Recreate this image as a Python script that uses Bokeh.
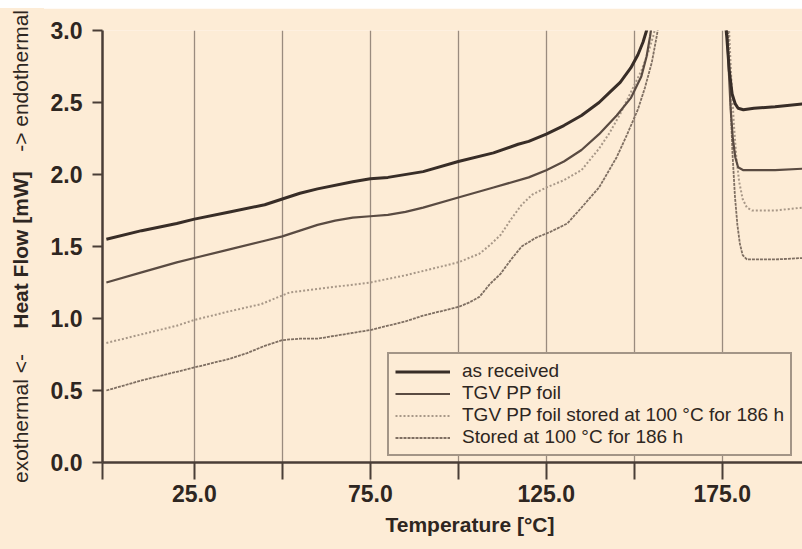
import numpy as np
from bokeh.plotting import figure
from bokeh.models import FixedTicker, Legend, LegendItem, Range1d, Spacer, Div
from bokeh.layouts import row, column
from bokeh.embed import file_html
from bokeh.resources import INLINE

# ---------------- data ----------------
series_names = [
    "as received",
    "TGV PP foil",
    "TGV PP foil stored at 100 °C for 186 h",
    "Stored at 100 °C for 186 h",
]

# as received
ar_x_heat = [0, 10, 20, 25, 35, 45, 50, 55, 60, 70, 75, 80, 90, 100, 110, 117, 120, 125,
             130, 135, 140, 143, 146, 149, 151, 152.5, 153.5, 154.2]
ar_y_heat = [1.55, 1.61, 1.66, 1.69, 1.74, 1.79, 1.83, 1.87, 1.90, 1.95, 1.97, 1.98, 2.02,
             2.09, 2.15, 2.21, 2.23, 2.28, 2.34, 2.41, 2.50, 2.57, 2.64, 2.74, 2.83, 2.92,
             3.00, 3.08]
ar_x_cool = [175.8, 176.3, 177.0, 177.8, 178.7, 179.5, 181, 184, 190, 197.8]
ar_y_cool = [3.08, 2.95, 2.72, 2.56, 2.49, 2.46, 2.45, 2.46, 2.47, 2.49]

# TGV PP foil
tf_x_heat = [0, 10, 20, 25, 35, 45, 50, 55, 60, 65, 70, 75, 80, 85, 90, 100, 110, 120, 125,
             130, 135, 140, 145, 149, 152, 153.5, 154.5, 155.2]
tf_y_heat = [1.25, 1.32, 1.39, 1.42, 1.48, 1.54, 1.57, 1.61, 1.65, 1.68, 1.70, 1.71, 1.72,
             1.74, 1.77, 1.84, 1.91, 1.98, 2.03, 2.09, 2.17, 2.28, 2.41, 2.53, 2.68, 2.82,
             2.96, 3.08]
tf_x_cool = [176.2, 176.8, 177.4, 178.0, 178.7, 179.5, 181, 184, 190, 197.8]
tf_y_cool = [3.08, 2.75, 2.45, 2.25, 2.12, 2.05, 2.03, 2.03, 2.03, 2.04]

# TGV PP foil stored at 100 °C for 186 h
ts_x_heat = [0, 10, 20, 25, 35, 44, 48, 52, 55, 65, 75, 85, 90, 100, 106, 109, 112, 115,
             118, 121, 125, 130, 135, 140, 143, 146, 149, 152, 154, 155.5, 156.5]
ts_y_heat = [0.83, 0.89, 0.95, 0.99, 1.05, 1.10, 1.14, 1.18, 1.19, 1.22, 1.25, 1.30, 1.33,
             1.39, 1.45, 1.51, 1.58, 1.69, 1.79, 1.86, 1.91, 1.96, 2.03, 2.18, 2.29, 2.42,
             2.57, 2.72, 2.85, 2.97, 3.08]
ts_x_cool = [176.8, 177.5, 178.3, 179.0, 179.8, 180.8, 182, 183.5, 186, 190, 197.8]
ts_y_cool = [3.08, 2.70, 2.35, 2.12, 1.95, 1.83, 1.77, 1.75, 1.75, 1.75, 1.77]

# Stored at 100 °C for 186 h
st_x_heat = [0, 10, 20, 25, 30, 35, 40, 45, 50, 55, 60, 65, 70, 75, 80, 85, 90, 95, 100,
             103, 106, 109, 112, 115, 118, 122, 126, 131, 135, 140, 145, 148, 151, 153,
             155, 156.3, 157.2]
st_y_heat = [0.50, 0.57, 0.63, 0.66, 0.69, 0.72, 0.76, 0.81, 0.85, 0.86, 0.86, 0.88, 0.90,
             0.92, 0.95, 0.98, 1.02, 1.05, 1.08, 1.11, 1.15, 1.24, 1.31, 1.41, 1.50, 1.56,
             1.60, 1.66, 1.77, 1.91, 2.12, 2.28, 2.45, 2.60, 2.78, 2.95, 3.08]
st_x_cool = [176.6, 177.2, 177.9, 178.6, 179.3, 180.0, 180.8, 182, 183, 186, 190, 197.8]
st_y_cool = [3.08, 2.60, 2.15, 1.85, 1.65, 1.52, 1.44, 1.41, 1.41, 1.41, 1.41, 1.42]

x_ticks = [25, 50, 75, 100, 125, 150, 175]
x_tick_labels = ["25.0", "", "75.0", "", "125.0", "", "175.0"]
y_ticks = [0.0, 0.5, 1.0, 1.5, 2.0, 2.5, 3.0]
y_tick_labels = ["0.0", "0.5", "1.0", "1.5", "2.0", "2.5", "3.0"]

x_title = "Temperature [°C]"
y_title_parts = ["exothermal &lt;- ", "Heat Flow [mW]", " -&gt; endothermal"]

# ---------------- styling ----------------
BG = "#fdecd6"
INK = "#2e2621"
AXIS = "#4a3e37"
GRID = "#9a8b7e"
FONT = "Liberation Sans"

TOP_WHITE = 8
LEFT_W = 40
X0, X1 = -1.1, 197.8

p = figure(width=802 - LEFT_W, height=549 - TOP_WHITE,
           x_range=Range1d(X0, X1), y_range=Range1d(0, 3.0),
           output_backend="svg", toolbar_location=None,
           min_border_left=102 - LEFT_W, min_border_right=0,
           min_border_top=30 - TOP_WHITE, min_border_bottom=87)
p.background_fill_color = BG
p.border_fill_color = BG
p.outline_line_color = None

# axes
p.xaxis.ticker = FixedTicker(ticks=[X0] + x_ticks)
ov = {X0: ""}
ov.update({t: l for t, l in zip(x_ticks, x_tick_labels)})
p.xaxis.major_label_overrides = ov
p.yaxis.ticker = FixedTicker(ticks=y_ticks)
p.yaxis.major_label_overrides = {t: l for t, l in zip(y_ticks, y_tick_labels)}
for ax in (p.xaxis[0], p.yaxis[0]):
    ax.axis_line_color = AXIS
    ax.axis_line_width = 2.5
    ax.major_tick_line_color = AXIS
    ax.major_tick_line_width = 2
    ax.major_tick_in = 0
    ax.minor_tick_line_color = None
    ax.major_label_text_font = FONT
    ax.major_label_text_font_style = "bold"
    ax.major_label_text_font_size = "23px"
    ax.major_label_text_color = INK
p.xaxis.major_tick_out = 17
p.xaxis.major_label_standoff = 5
p.yaxis.major_tick_out = 10
p.yaxis.major_label_standoff = 10

p.xaxis.axis_label = "\u00a0" * 6 + x_title
p.xaxis.axis_label_text_font = FONT
p.xaxis.axis_label_text_font_style = "bold"
p.xaxis.axis_label_text_font_size = "21px"
p.xaxis.axis_label_text_color = INK
p.xaxis.axis_label_standoff = 8

# grids
p.xgrid.ticker = FixedTicker(ticks=x_ticks)
p.xgrid.grid_line_color = GRID
p.xgrid.grid_line_width = 1.3
p.ygrid.ticker = FixedTicker(ticks=[3.0])
p.ygrid.grid_line_color = "#9c8f85"
p.ygrid.grid_line_width = 3


def joined(xh, yh, xc, yc):
    return list(xh) + [np.nan] + list(xc), list(yh) + [np.nan] + list(yc)


x1, y1 = joined(ar_x_heat, ar_y_heat, ar_x_cool, ar_y_cool)
x2, y2 = joined(tf_x_heat, tf_y_heat, tf_x_cool, tf_y_cool)
x3, y3 = joined(ts_x_heat, ts_y_heat, ts_x_cool, ts_y_cool)
x4, y4 = joined(st_x_heat, st_y_heat, st_x_cool, st_y_cool)

r4 = p.line(x4, y4, line_color="#7f6f62", line_width=1.8, line_dash="3 1")
r3 = p.line(x3, y3, line_color="#a89888", line_width=2, line_dash="2 2")
r2 = p.line(x2, y2, line_color="#5a4b42", line_width=2.2)
r1 = p.line(x1, y1, line_color="#382d27", line_width=3)

legend = Legend(items=[LegendItem(label=series_names[0], renderers=[r1]),
                       LegendItem(label=series_names[1], renderers=[r2]),
                       LegendItem(label=series_names[2], renderers=[r3]),
                       LegendItem(label=series_names[3], renderers=[r4])],
                location=(285, 6))
legend.background_fill_color = BG
legend.background_fill_alpha = 1
legend.border_line_color = AXIS
legend.border_line_width = 2
legend.label_text_font = FONT
legend.label_text_font_size = "19px"
legend.label_text_color = INK
legend.glyph_width = 55
legend.glyph_height = 21
legend.label_height = 21
legend.label_standoff = 12
legend.spacing = 0
legend.padding = 6
legend.margin = 0
p.add_layout(legend)

# ---------------- left strip holding the vertical axis title ----------------
span_css = ("position:absolute;left:20px;top:{top}px;transform-origin:0 0;"
            "transform:rotate(-90deg) translate({tx},-50%);white-space:nowrap;"
            "font-family:'Liberation Sans';font-size:21px;line-height:1;color:" + INK + ";"
            "font-weight:{fw};")
html = ('<div style="position:relative;width:%dpx;height:%dpx;overflow:visible;'
        'background-color:%s;">' % (LEFT_W + 4, 549 - TOP_WHITE, BG))
html += '<span style="%s">%s</span>' % (
    span_css.format(top=483 - TOP_WHITE, tx="0", fw="normal"), y_title_parts[0])
html += '<span style="%s">%s</span>' % (
    span_css.format(top=250 - TOP_WHITE, tx="-50%", fw="bold"), y_title_parts[1])
html += '<span style="%s">%s</span>' % (
    span_css.format(top=10 - TOP_WHITE, tx="-100%", fw="normal"), y_title_parts[2])
html += '</div>'
ylab = Div(text=html, width=LEFT_W, height=549 - TOP_WHITE,
           styles={"background-color": BG, "margin": "0", "padding": "0",
                   "overflow": "visible"})

layout = column(Spacer(width=802, height=TOP_WHITE), row(ylab, p, spacing=0), spacing=0)

open("out.html", "w").write(file_html(layout, INLINE))
